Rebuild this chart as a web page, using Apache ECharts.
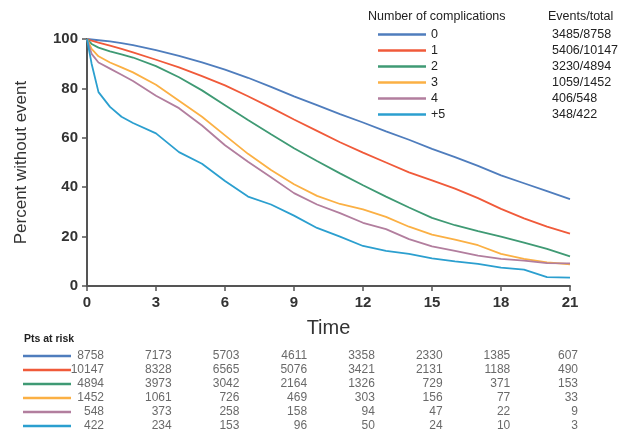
<!DOCTYPE html>
<html>
<head>
<meta charset="utf-8">
<script src="https://cdn.jsdelivr.net/npm/echarts@6.0.0/dist/echarts.min.js"></script>
<style>
  html, body { margin: 0; padding: 0; background: #fff; }
  #chart { width: 635px; height: 434px; }
</style>
</head>
<body>
<div id="chart"></div>
<script>
// 分组（并发症数量）
const groups = ['0', '1', '2', '3', '4', '+5']
const events = ['3485/8758', '5406/10147', '3230/4894', '1059/1452', '406/548', '348/422']
const colors = ['#4f7dbd', '#f05a3a', '#3f9a74', '#fbb044', '#b27e9e', '#2b9fcf']

// 时间点
const times = [0, 0.2, 0.5, 1, 1.5, 2, 3, 4, 5, 6, 7, 8, 9, 10, 11, 12, 13, 14, 15, 16, 17, 18, 19, 20, 21]

// 各组无事件百分比
const surv0 = [100, 99.8, 99.5, 99, 98.3, 97.5, 95.5, 93.2, 90.5, 87.6, 84.3, 80.6, 76.8, 73.2, 69.6, 66.2, 62.6, 59.2, 55.5, 52.2, 48.6, 44.8, 41.6, 38.4, 35.2]
const surv1 = [100, 99.3, 98.5, 97.3, 96, 94.6, 91.6, 88.5, 85, 81.2, 76.8, 72.2, 67.4, 62.8, 58.2, 54, 50, 46, 42.8, 39.4, 35.6, 31.2, 27.4, 24, 21.2]
const surv2 = [100, 98, 96.5, 95, 93.8, 92.5, 89, 84.5, 79.2, 73.2, 67.2, 61.4, 55.8, 50.6, 45.6, 40.8, 36.2, 31.8, 27.6, 24.6, 22.2, 20, 17.6, 15, 12]
const surv3 = [100, 96, 93, 90.5, 88.5, 86.5, 81.5, 75, 68.5, 61, 53.5, 47, 41.2, 36.5, 33.2, 31, 28, 24, 20.8, 18.8, 16.5, 13, 11, 9.6, 8.8]
const surv4 = [100, 94, 90.5, 88, 85.5, 83, 77, 72, 65, 57, 50.3, 44, 37.6, 33, 29.5, 25.6, 23, 19, 16, 14.2, 12.3, 11, 10.3, 9.3, 9.2]
const surv5 = [100, 90, 78.5, 72.5, 68.5, 66, 61.8, 54.2, 49.5, 42.5, 36.2, 33, 28.5, 23.5, 20, 16.2, 14.2, 13, 11.2, 10, 9, 7.4, 6.6, 3.6, 3.4]
const survAll = [surv0, surv1, surv2, surv3, surv4, surv5]

// 风险人数表
const riskTimes = [0, 3, 6, 9, 12, 15, 18, 21]
const risk0 = [8758, 7173, 5703, 4611, 3358, 2330, 1385, 607]
const risk1 = [10147, 8328, 6565, 5076, 3421, 2131, 1188, 490]
const risk2 = [4894, 3973, 3042, 2164, 1326, 729, 371, 153]
const risk3 = [1452, 1061, 726, 469, 303, 156, 77, 33]
const risk4 = [548, 373, 258, 158, 94, 47, 22, 9]
const risk5 = [422, 234, 153, 96, 50, 24, 10, 3]
const riskAll = [risk0, risk1, risk2, risk3, risk4, risk5]

const font = 'Liberation Sans, Arial, sans-serif'
const chart = echarts.init(document.getElementById('chart'))

const rich = {}
colors.forEach(function (c, i) {
  rich['c' + i] = { width: 48, height: 2.5, backgroundColor: c }
})

const series = []
groups.forEach(function (g, i) {
  series.push({
    name: g,
    type: 'line',
    symbol: 'none',
    color: colors[i],
    lineStyle: { width: 1.8, color: colors[i] },
    data: times.map(function (t, k) { return [t, survAll[i][k]] })
  })
})
groups.forEach(function (g, i) {
  series.push({
    name: 'risk' + i,
    type: 'scatter',
    xAxisIndex: 1,
    yAxisIndex: 1,
    symbolSize: 0,
    silent: true,
    label: {
      show: true,
      position: 'left',
      distance: 0,
      fontFamily: font,
      fontSize: 12,
      color: '#444',
      formatter: function (p) { return p.value[2] }
    },
    data: riskTimes.map(function (t, k) { return [t, g, riskAll[i][k]] })
  })
})

const option = {
  animation: false,
  textStyle: { fontFamily: font },
  grid: [
    { left: 87, right: 65, top: 39, bottom: 148 },
    { left: 104, right: 57, top: 349, height: 84 }
  ],
  legend: {
    data: groups,
    orient: 'vertical',
    left: 373,
    top: 22,
    itemWidth: 48,
    itemHeight: 2.5,
    itemGap: 1,
    icon: 'rect',
    selectedMode: false,
    formatter: function (name) {
      return '{n|' + name + '}{e|' + events[groups.indexOf(name)] + '}'
    },
    textStyle: {
      fontFamily: font,
      fontSize: 12.5,
      color: '#222',
      lineHeight: 15,
      rich: {
        n: { width: 121, fontSize: 12.5, color: '#222', fontFamily: font },
        e: { fontSize: 12.5, color: '#222', fontFamily: font }
      }
    }
  },
  graphic: [
    { type: 'text', left: 368, top: 10, style: { text: 'Number of complications', font: '12.5px ' + font, fill: '#222' } },
    { type: 'text', left: 548, top: 10, style: { text: 'Events/total', font: '12.5px ' + font, fill: '#222' } },
    { type: 'text', left: 24, top: 334, style: { text: 'Pts at risk', font: 'bold 10.5px ' + font, fill: '#222' } }
  ],
  xAxis: [
    {
      type: 'value',
      min: 0,
      max: 21,
      interval: 3,
      name: 'Time',
      nameLocation: 'middle',
      nameGap: 32,
      nameTextStyle: { fontSize: 20, color: '#333', fontFamily: font },
      axisLine: { show: true, lineStyle: { color: '#555', width: 2 } },
      axisTick: { show: true, length: 5, lineStyle: { color: '#555', width: 1.5 } },
      axisLabel: { fontSize: 15, color: '#333', fontWeight: 'bold', margin: 9, fontFamily: font },
      splitLine: { show: false }
    },
    { gridIndex: 1, type: 'value', min: 0, max: 21, show: false }
  ],
  yAxis: [
    {
      type: 'value',
      min: 0,
      max: 100,
      interval: 20,
      name: 'Percent without event',
      nameLocation: 'middle',
      nameGap: 57,
      nameTextStyle: { fontSize: 17, color: '#333', fontFamily: font },
      axisLine: { show: true, lineStyle: { color: '#555', width: 2 } },
      axisTick: { show: true, length: 5, lineStyle: { color: '#555', width: 1.5 } },
      axisLabel: { fontSize: 15, color: '#333', fontWeight: 'bold', margin: 9, fontFamily: font },
      splitLine: { show: false }
    },
    {
      gridIndex: 1,
      type: 'category',
      data: groups,
      inverse: true,
      axisLine: { show: false },
      axisTick: { show: false },
      splitLine: { show: false },
      axisLabel: {
        interval: 0,
        margin: 33,
        formatter: function (v, i) { return '{c' + i + '|}' },
        rich: rich
      }
    }
  ],
  series: series
}
chart.setOption(option)
</script>
</body>
</html>
